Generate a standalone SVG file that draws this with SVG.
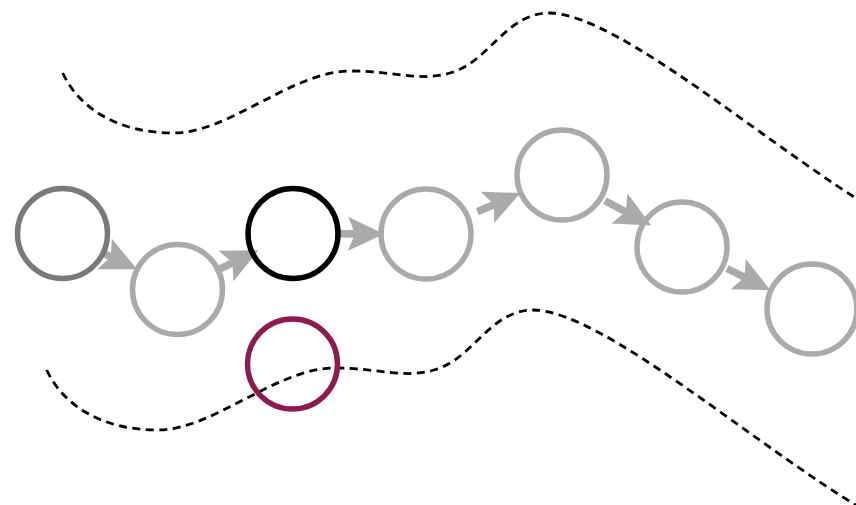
<svg xmlns="http://www.w3.org/2000/svg" xmlns:xlink="http://www.w3.org/1999/xlink" width="856" height="505" viewBox="0 0 856 505">
  <style>
    .node { fill: none; stroke-width: 5.5; }
    .light { stroke: #aaaaaa; }
    .dark { stroke: #7a7a7a; }
    .black { stroke: #000000; }
    .magenta { stroke: #8f1a4f; }
    .conn { stroke: #aaaaaa; stroke-width: 7.5; fill: none; marker-end: url(#head); }
    .bound { fill: none; stroke: #000; stroke-width: 2.8; stroke-dasharray: 8 5.5; }
  </style>
  <defs>
    <marker id="head" markerUnits="userSpaceOnUse" viewBox="0 -18 36 36" markerWidth="36" markerHeight="36" refX="24" refY="0" orient="auto">
      <path d="M0,-17 L36,0 L0,17 L7,0 Z" fill="#aaaaaa"/>
    </marker>
    <path id="wave" d="M62.7,73 C80,110 120,133 173,133 C230,133 290,72 350,71 C395,71 420,82 450,73 C490,62 505,13 550,13 C620,15 770,148 880,213"/>
  </defs>
  <rect width="856" height="505" fill="#ffffff"/>
  <g id="boundaries">
    <use xlink:href="#wave" class="bound"/>
    <use xlink:href="#wave" class="bound" transform="translate(-16,297)"/>
  </g>
  <g id="connectors">
    <line class="conn" x1="102.1" y1="252.8" x2="126.2" y2="264.2"/>
    <line class="conn" x1="215.3" y1="271.2" x2="247.7" y2="255.4"/>
    <line class="conn" x1="335" y1="233.7" x2="372" y2="234"/>
    <line class="conn" x1="477.4" y1="211.7" x2="509.5" y2="197.8"/>
    <line class="conn" x1="604.9" y1="200.7" x2="640.7" y2="219.8"/>
    <line class="conn" x1="727" y1="268.5" x2="759.7" y2="284.8"/>
  </g>
  <g id="n1"><circle class="node dark" cx="62.5" cy="233.5" r="45"/></g>
  <g id="n2"><circle class="node light" cx="177.5" cy="289.5" r="45"/></g>
  <g id="n3"><circle class="node black" cx="293" cy="233.5" r="45"/></g>
  <g id="n4"><circle class="node light" cx="426" cy="234" r="45"/></g>
  <g id="n5"><circle class="node light" cx="562" cy="175" r="45"/></g>
  <g id="n6"><circle class="node light" cx="682" cy="247" r="45"/></g>
  <g id="n7"><circle class="node light" cx="812" cy="309" r="45"/></g>
  <g id="n8"><circle class="node magenta" cx="292.5" cy="364" r="45"/></g>
</svg>
